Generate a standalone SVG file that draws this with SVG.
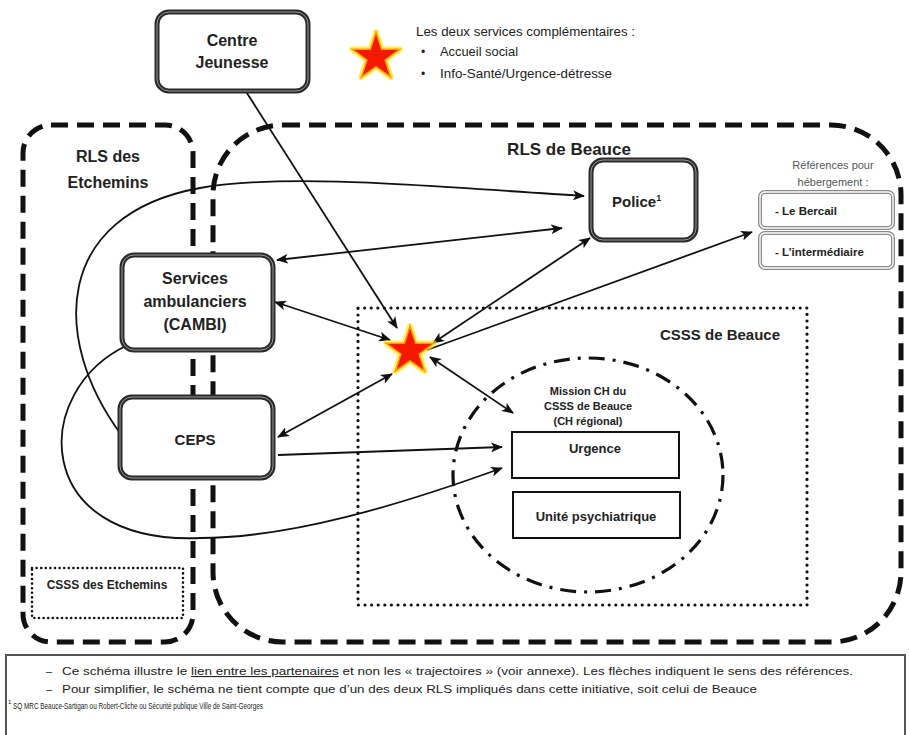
<svg xmlns="http://www.w3.org/2000/svg" width="909" height="735" viewBox="0 0 909 735">
<style>
text{font-family:"Liberation Sans",Arial,sans-serif;fill:#222}
.b{font-weight:bold}
.node{fill:#fff;stroke:#2a2a2a;stroke-width:5}
.nodein{fill:none;stroke:#9a9a9a;stroke-width:1}
.ref{fill:#fff;stroke:#8a8a8a;stroke-width:4}
.refin{fill:none;stroke:#fff;stroke-width:1.4}
.box{fill:#fff;stroke:#111;stroke-width:2}
.dash{fill:none;stroke:#111;stroke-width:5;stroke-dasharray:17 9}
.dot{fill:none;stroke:#111;stroke-width:3.2;stroke-dasharray:0 6.6;stroke-linecap:round}
.dot2{fill:none;stroke:#111;stroke-width:2.6;stroke-dasharray:0 4.6;stroke-linecap:round}
.dd{fill:none;stroke:#111;stroke-width:3.2;stroke-dasharray:16 8 3 8}
.c{fill:none;stroke:#111;stroke-width:1.8}
</style>
<defs>
<marker id="ah" viewBox="0 0 12 10" refX="11" refY="5" markerWidth="12" markerHeight="10" markerUnits="userSpaceOnUse" orient="auto-start-reverse">
<path d="M0,0 L12,5 L0,10 L3,5 Z" fill="#111"/>
</marker>
<path id="star" d="M0,-25 L5.6,-7.8 L23.8,-7.7 L9.1,3 L14.7,20.2 L0,9.6 L-14.7,20.2 L-9.1,3 L-23.8,-7.7 L-5.6,-7.8 Z"/>
</defs>

<!-- regions -->
<g id="rls-etchemins">
<rect class="dash" x="23" y="125" width="170" height="517" rx="28"/>
<text class="b" x="108" y="162" font-size="16" text-anchor="middle">RLS des</text>
<text class="b" x="108" y="188" font-size="16" text-anchor="middle">Etchemins</text>
</g>
<g id="rls-beauce">
<rect class="dash" x="213" y="125" width="688" height="517" rx="70"/>
<text class="b" x="569" y="155" font-size="17" text-anchor="middle">RLS de Beauce</text>
</g>
<g id="csss-beauce">
<rect class="dot" x="358" y="308" width="449" height="297"/>
<text class="b" x="720" y="340" font-size="15" text-anchor="middle">CSSS de Beauce</text>
</g>
<g id="csss-etchemins">
<rect class="dot2" x="32" y="568" width="151" height="50"/>
<text class="b" x="107" y="589" font-size="12" text-anchor="middle">CSSS des Etchemins</text>
</g>
<g id="mission-ch">
<ellipse class="dd" cx="588" cy="475" rx="135" ry="117"/>
<text class="b" x="588" y="395" font-size="11" text-anchor="middle">Mission CH du</text>
<text class="b" x="588" y="410" font-size="11" text-anchor="middle">CSSS de Beauce</text>
<text class="b" x="588" y="425" font-size="11" text-anchor="middle">(CH régional)</text>
</g>

<!-- legend -->
<g id="legend">
<use href="#star" transform="translate(376,57)" fill="none" stroke="#ffe600" stroke-width="6" stroke-linejoin="round" opacity="0.6"/>
<use href="#star" transform="translate(376,57)" fill="#f41800" stroke="#ff9a00" stroke-width="1.5"/>
<text x="416" y="36" font-size="12" textLength="219" lengthAdjust="spacingAndGlyphs">Les deux services complémentaires :</text>
<text x="421" y="56" font-size="12">•</text>
<text x="440" y="56" font-size="12" textLength="78" lengthAdjust="spacingAndGlyphs">Accueil social</text>
<text x="421" y="78" font-size="12">•</text>
<text x="440" y="78" font-size="12" textLength="172" lengthAdjust="spacingAndGlyphs">Info-Santé/Urgence-détresse</text>
</g>

<!-- connectors -->
<g id="connectors">
<path class="c" d="M245,90 L397,328" marker-end="url(#ah)"/>
<path class="c" d="M120,433 C52,340 52,215 200,188 C290,172 450,188 584,196" marker-end="url(#ah)"/>
<path class="c" d="M128,345 C30,390 30,545 200,538 C290,538 400,505 502,468" marker-end="url(#ah)"/>
<path class="c" d="M277,260 L562,228" marker-start="url(#ah)" marker-end="url(#ah)"/>
<path class="c" d="M275,302 L390,340" marker-start="url(#ah)" marker-end="url(#ah)"/>
<path class="c" d="M278,437 L392,374" marker-start="url(#ah)" marker-end="url(#ah)"/>
<path class="c" d="M278,455 L502,447" marker-end="url(#ah)"/>
<path class="c" d="M433,343 L590,238" marker-start="url(#ah)" marker-end="url(#ah)"/>
<path class="c" d="M427,350 L752,232" marker-end="url(#ah)"/>
<path class="c" d="M430,357 L513,413" marker-start="url(#ah)" marker-end="url(#ah)"/>
</g>

<!-- central star -->
<g id="star-center">
<use href="#star" transform="translate(410,351)" fill="none" stroke="#ffe600" stroke-width="6" stroke-linejoin="round" opacity="0.6"/>
<use href="#star" transform="translate(410,351)" fill="#f41800" stroke="#ff9a00" stroke-width="1.5"/>
</g>

<!-- nodes -->
<g id="centre-jeunesse">
<rect class="node" x="157" y="12" width="151" height="79" rx="12"/>
<rect class="nodein" x="157" y="12" width="151" height="79" rx="12"/>
<text class="b" x="232" y="46" font-size="16" text-anchor="middle">Centre</text>
<text class="b" x="232" y="68" font-size="16" text-anchor="middle">Jeunesse</text>
</g>
<g id="police">
<rect class="node" x="591" y="160" width="105" height="80" rx="12"/>
<rect class="nodein" x="591" y="160" width="105" height="80" rx="12"/>
<text class="b" x="612" y="207" font-size="15">Police<tspan font-size="9" dy="-6">1</tspan></text>
</g>
<g id="references">
<text x="833" y="169" font-size="11" style="fill:#555" text-anchor="middle">Références pour</text>
<text x="833" y="186" font-size="11" style="fill:#555" text-anchor="middle">hébergement :</text>
</g>
<g id="le-bercail">
<rect class="ref" x="760" y="192" width="133" height="36" rx="5"/>
<rect class="refin" x="760" y="192" width="133" height="36" rx="5"/>
<text class="b" x="775" y="215" font-size="11.5">- Le Bercail</text>
</g>
<g id="intermediaire">
<rect class="ref" x="760" y="233" width="133" height="35" rx="5"/>
<rect class="refin" x="760" y="233" width="133" height="35" rx="5"/>
<text class="b" x="775" y="256" font-size="11.5">- L’intermédiaire</text>
</g>
<g id="services-ambulanciers">
<rect class="node" x="122" y="255" width="151" height="95" rx="12"/>
<rect class="nodein" x="122" y="255" width="151" height="95" rx="12"/>
<text class="b" x="195" y="284" font-size="16" text-anchor="middle">Services</text>
<text class="b" x="195" y="307" font-size="16" text-anchor="middle">ambulanciers</text>
<text class="b" x="195" y="330" font-size="16" text-anchor="middle">(CAMBI)</text>
</g>
<g id="ceps">
<rect class="node" x="120" y="397" width="153" height="81" rx="12"/>
<rect class="nodein" x="120" y="397" width="153" height="81" rx="12"/>
<text class="b" x="195" y="445" font-size="15" text-anchor="middle">CEPS</text>
</g>
<g id="urgence">
<rect class="box" x="512" y="432" width="167" height="46"/>
<text class="b" x="595" y="453" font-size="13" text-anchor="middle">Urgence</text>
</g>
<g id="unite-psychiatrique">
<rect class="box" x="513" y="492" width="167" height="46"/>
<text class="b" x="596" y="521" font-size="13" text-anchor="middle">Unité psychiatrique</text>
</g>

<!-- footer -->
<g id="footer">
<rect x="6" y="655" width="899" height="90" fill="#fff" stroke="#555" stroke-width="2"/>
<text x="46" y="675" font-size="11">–</text>
<text x="62" y="675" font-size="11" textLength="791" lengthAdjust="spacingAndGlyphs">Ce schéma illustre le <tspan text-decoration="underline">lien entre les partenaires</tspan> et non les « trajectoires » (voir annexe). Les flèches indiquent le sens des références.</text>
<text x="46" y="693" font-size="11">–</text>
<text x="62" y="693" font-size="11" textLength="695" lengthAdjust="spacingAndGlyphs">Pour simplifier, le schéma ne tient compte que d’un des deux RLS impliqués dans cette initiative, soit celui de Beauce</text>
<text x="8" y="704" font-size="6">1</text>
<text x="13" y="709" font-size="8.5" textLength="250" lengthAdjust="spacingAndGlyphs">SQ MRC Beauce-Sartigan ou Robert-Cliche ou Sécurité publique Ville de Saint-Georges</text>
</g>
</svg>
